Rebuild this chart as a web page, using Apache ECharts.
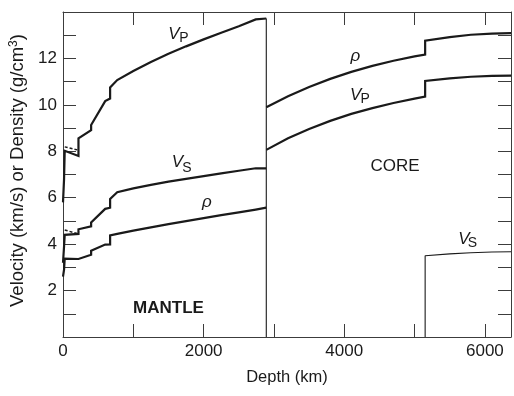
<!DOCTYPE html>
<html>
<head>
<meta charset="utf-8">
<script src="https://cdn.jsdelivr.net/npm/echarts@6/dist/echarts.min.js"></script>
<style>
  html, body { margin: 0; padding: 0; background: #fff; }
  #chart { width: 514px; height: 396px; }
</style>
</head>
<body>
<div id="chart"></div>
<script>
// Radial Earth model: P velocity, S velocity and density against depth.

// Crust and mantle (depth in km), with step discontinuities repeated.
const mantleDepth = [0, 15, 15, 24.4, 24.4, 220, 220, 400, 400, 600, 670, 670, 771, 1000, 1250, 1500, 1750, 2000, 2250, 2500, 2741, 2891];
const mantleVp    = [5.8, 5.8, 6.8, 6.8, 8.02, 7.80, 8.56, 8.91, 9.13, 10.16, 10.27, 10.75, 11.07, 11.46, 11.85, 12.20, 12.52, 12.82, 13.11, 13.39, 13.68, 13.72];
const mantleVs    = [3.2, 3.2, 3.9, 3.9, 4.40, 4.44, 4.64, 4.77, 4.93, 5.52, 5.57, 5.95, 6.24, 6.40, 6.55, 6.69, 6.81, 6.93, 7.05, 7.16, 7.27, 7.26];
const mantleRho   = [2.6, 2.6, 2.9, 2.9, 3.38, 3.36, 3.44, 3.54, 3.72, 3.98, 3.99, 4.38, 4.44, 4.58, 4.72, 4.86, 4.99, 5.12, 5.25, 5.37, 5.49, 5.57];

// Horizontal components in the anisotropic lid (dashed)
const lidDepth = [24.4, 220];
const lidVph   = [8.19, 8.05];
const lidVsh   = [4.61, 4.44];

// Outer core (liquid, Vs = 0)
const outerDepth = [2891, 3200, 3500, 3800, 4100, 4400, 4700, 5000, 5150];
const outerVp    = [8.06, 8.56, 8.96, 9.31, 9.61, 9.86, 10.08, 10.27, 10.36];
const outerRho   = [9.90, 10.37, 10.77, 11.12, 11.42, 11.68, 11.90, 12.09, 12.17];

// Inner core
const innerDepth = [5150, 5500, 5800, 6100, 6371];
const innerVp    = [11.03, 11.14, 11.21, 11.25, 11.26];
const innerVs    = [3.50, 3.58, 3.63, 3.66, 3.67];
const innerRho   = [12.76, 12.92, 13.02, 13.07, 13.09];

// Axis ticks
const depthMax = 6371;
const depthStep = 1000;
const depthLabels = [0, 2000, 4000, 6000];
const valueMax = 14;
const valueStep = 1;
const valueLabels = [2, 4, 6, 8, 10, 12];

const FONT = '"Liberation Sans", Arial, Helvetica, sans-serif';
const INK = '#1a1a1a';
const FRAME = '#3c3c3c';

const pairs = (xs, ys) => xs.map((x, i) => [x, ys[i]]);

const coreDepth = outerDepth.concat(innerDepth);
const coreVp = outerVp.concat(innerVp);
const coreRho = outerRho.concat(innerRho);

const cmbDepth = mantleDepth[mantleDepth.length - 1];
const cmbLine = [[cmbDepth, 0], [cmbDepth, mantleVp[mantleVp.length - 1]]];
const icVs = [[innerDepth[0], 0]].concat(pairs(innerDepth, innerVs));

function thick(name, data, dashed) {
  return {
    name, type: 'line', data, showSymbol: false, symbol: 'none',
    lineStyle: { color: INK, width: dashed ? 1.5 : 2.2, type: dashed ? [3, 2] : 'solid', cap: 'butt', join: 'miter' },
    z: 3, silent: true, animation: false
  };
}
function thin(name, data) {
  return {
    name, type: 'line', data, showSymbol: false, symbol: 'none',
    lineStyle: { color: INK, width: 1.1 },
    z: 2, silent: true, animation: false
  };
}

const xTicks = {
  type: 'value', min: 0, max: depthMax, interval: depthStep,
  axisLine: { show: true, onZero: false, lineStyle: { color: FRAME, width: 1 } },
  axisTick: { show: true, inside: true, length: 13, lineStyle: { color: FRAME, width: 1 } },
  splitLine: { show: false }
};
const yTicks = {
  type: 'value', min: 0, max: valueMax, interval: valueStep,
  axisLine: { show: true, onZero: false, lineStyle: { color: FRAME, width: 1 } },
  axisTick: { show: true, inside: true, length: 13, lineStyle: { color: FRAME, width: 1 } },
  splitLine: { show: false }
};

// Italic symbol with an upright subscript
function symbol(main, sub, x, y, dx, dy) {
  const children = [{
    type: 'text', x: 0, y: 0,
    style: { text: main, fontFamily: FONT, fontSize: 17, fontStyle: 'italic', fill: INK, align: 'left', verticalAlign: 'middle' }
  }];
  if (sub) {
    children.push({
      type: 'text', x: dx, y: dy,
      style: { text: sub, fontFamily: FONT, fontSize: 14, fill: INK, align: 'left', verticalAlign: 'middle' }
    });
  }
  return { type: 'group', x, y, children, silent: true };
}
function word(text, x, y, bold) {
  return {
    type: 'text', x, y, silent: true,
    style: { text, fontFamily: FONT, fontSize: 17, fontWeight: bold ? 'bold' : 'normal', fill: INK, align: 'center', verticalAlign: 'middle' }
  };
}

const chart = echarts.init(document.getElementById('chart'), null, { renderer: 'canvas' });
chart.setOption({
  animation: false,
  backgroundColor: '#fff',
  grid: { left: 63, right: 3, top: 12, bottom: 59 },
  xAxis: [
    Object.assign({}, xTicks, {
      position: 'bottom',
      name: 'Depth (km)', nameLocation: 'middle', nameGap: 32,
      nameTextStyle: { fontFamily: FONT, fontSize: 16.5, color: INK },
      axisLabel: {
        show: true, margin: 6, fontFamily: FONT, fontSize: 17, color: INK,
        showMaxLabel: false,
        formatter: v => depthLabels.includes(v) ? String(v) : ''
      }
    }),
    Object.assign({}, xTicks, { position: 'top', axisLabel: { show: false } })
  ],
  yAxis: [
    Object.assign({}, yTicks, {
      position: 'left',
      name: 'Velocity (km/s) or Density (g/cm{sup|3})', nameLocation: 'middle', nameGap: 36,
      nameTextStyle: {
        fontFamily: FONT, fontSize: 18.5, color: INK, padding: [0, 0, 0, 8],
        rich: { sup: { fontFamily: FONT, fontSize: 12, color: INK, verticalAlign: 'top', padding: [0, 0, 6, 0] } }
      },
      axisLabel: {
        show: true, margin: 6, fontFamily: FONT, fontSize: 17, color: INK,
        formatter: v => valueLabels.includes(v) ? String(v) : ''
      }
    }),
    Object.assign({}, yTicks, { position: 'right', axisLabel: { show: false } })
  ],
  series: [
    thick('Vp mantle', pairs(mantleDepth, mantleVp)),
    thick('Vs mantle', pairs(mantleDepth, mantleVs)),
    thick('Density mantle', pairs(mantleDepth, mantleRho)),
    thick('Vph lid', pairs(lidDepth, lidVph), true),
    thick('Vsh lid', pairs(lidDepth, lidVsh), true),
    thick('Vp core', pairs(coreDepth, coreVp)),
    thick('Density core', pairs(coreDepth, coreRho)),
    thin('Core-mantle boundary', cmbLine),
    thin('Vs inner core', icVs)
  ],
  graphic: [
    symbol('V', 'P', 168.3, 34.2, 11, 3.5),
    symbol('V', 'S', 171.7, 162.5, 10.5, 5.5),
    symbol('\u03C1', null, 202, 201.8),
    symbol('\u03C1', null, 350.5, 55.8),
    symbol('V', 'P', 350, 95, 10.5, 4.5),
    symbol('V', 'S', 458.3, 239, 9.5, 4.5),
    word('CORE', 395, 166.5, false),
    word('MANTLE', 168.5, 308.5, true)
  ]
});
</script>
</body>
</html>
